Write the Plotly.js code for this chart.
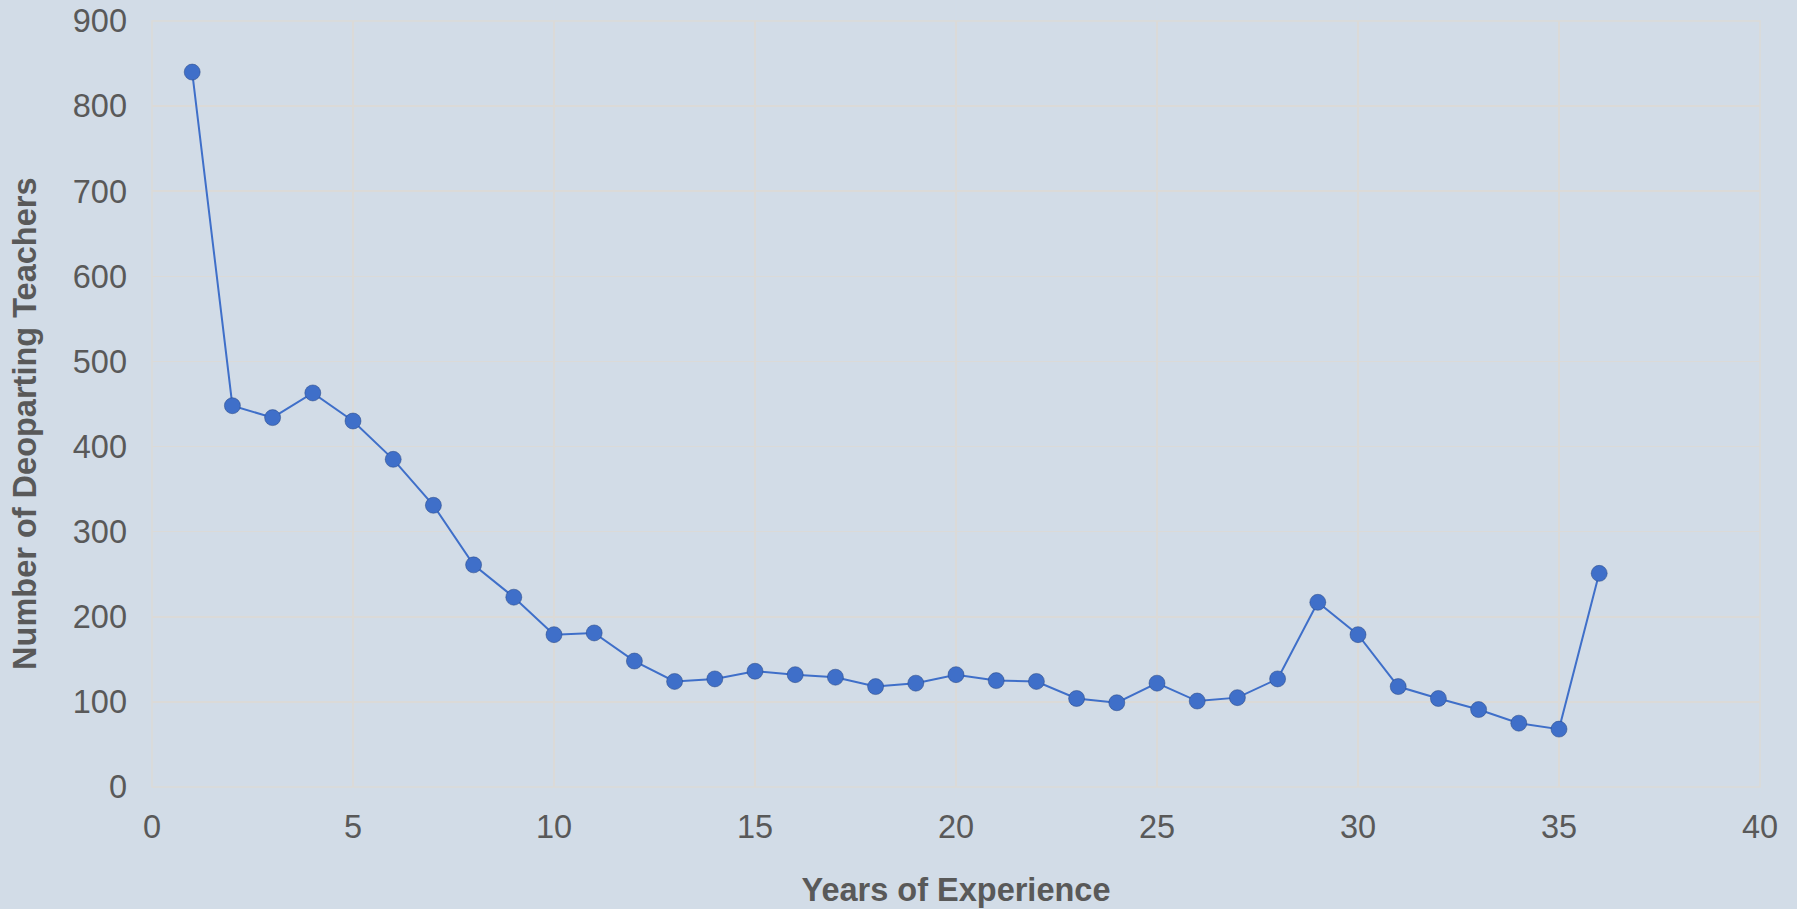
<!DOCTYPE html>
<html>
<head>
<meta charset="utf-8">
<script src="https://cdn.plot.ly/plotly-3.0.1.min.js"></script>
<style>html,body{margin:0;padding:0;background:#d2dce7;}#chart{width:1797px;height:909px;}</style>
</head>
<body>
<div id="chart"></div>
<script>
const years = [1,2,3,4,5,6,7,8,9,10,11,12,13,14,15,16,17,18,19,20,21,22,23,24,25,26,27,28,29,30,31,32,33,34,35,36];
const departing = [840,448,434,463,430,385,331,261,223,179,181,148,124,127,136,132,129,118,122,132,125,124,104,99,122,101,105,127,217,179,118,104,91,75,68,251];
const xTitle = "Years of Experience";
const yTitle = "Number of Deoparting Teachers";

const trace = {
  x: years, y: departing, type: 'scatter', mode: 'lines+markers',
  line: {color: '#3f6fc9', width: 2},
  marker: {color: '#3f6fc9', size: 16, line: {width: 1, color: 'rgba(40,70,130,0.5)'}},
  hoverinfo: 'x+y', showlegend: false
};
const grid = '#dbdad8';
const fs = 32.5;
const layout = {
  width: 1797, height: 909,
  paper_bgcolor: '#d2dce7', plot_bgcolor: '#d2dce7',
  margin: {l: 152, r: 37, t: 21, b: 122},
  font: {family: 'Liberation Sans, Arial, sans-serif', color: '#595959', size: fs},
  xaxis: {
    range: [0, 40], dtick: 5, tick0: 0, showgrid: true, gridcolor: grid, gridwidth: 1.5,
    zeroline: false, showline: false, ticks: '', ticklabelstandoff: 17,
    tickfont: {size: fs, color: '#595959'},
    title: {text: xTitle, font: {size: fs, color: '#595959', weight: 'bold'}, standoff: 34}
  },
  yaxis: {
    range: [0, 900], dtick: 100, tick0: 0, showgrid: true, gridcolor: grid, gridwidth: 1.5,
    zeroline: false, showline: false, ticks: '', ticklabelstandoff: 24,
    tickfont: {size: fs, color: '#595959'}
  },
  annotations: [
    {text: yTitle, xref: 'paper', yref: 'paper', x: 0, xshift: -127, y: 0.474, xanchor: 'center', yanchor: 'middle',
     textangle: -90, showarrow: false, font: {size: fs, color: '#595959', weight: 'bold'}}
  ],
  shapes: [
    {type: 'rect', xref: 'paper', yref: 'paper', x0: 0, x1: 1, y0: 0, y1: 1, line: {color: grid, width: 1.5}, layer: 'below'}
  ]
};
Plotly.newPlot('chart', [trace], layout, {displayModeBar: false, staticPlot: true});
</script>
</body>
</html>
